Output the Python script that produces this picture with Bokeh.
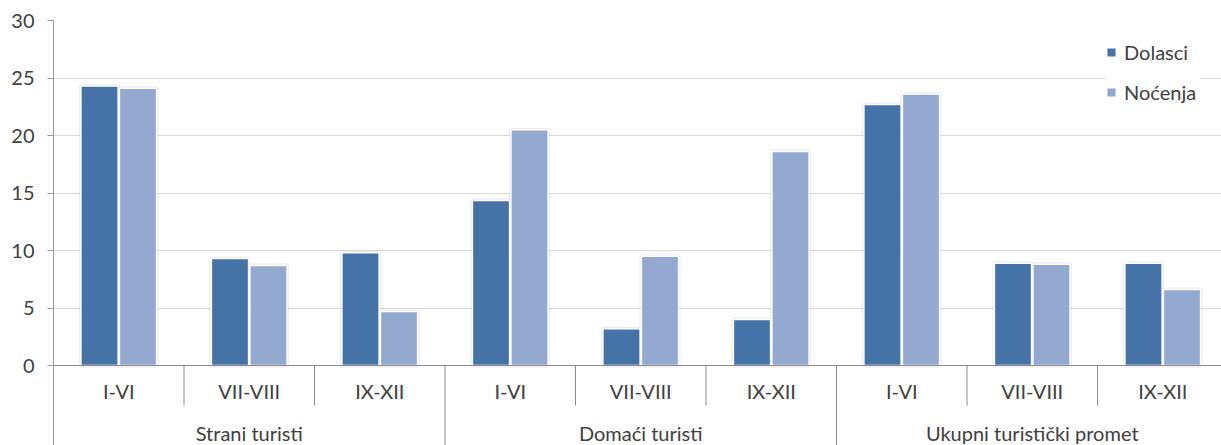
import numpy as np
from bokeh.plotting import figure
from bokeh.models import Range1d, FixedTicker, Span, ColumnDataSource, Legend, LegendItem
from bokeh.core.properties import value
from bokeh.transform import dodge
from bokeh.embed import file_html
from bokeh.resources import INLINE

# ---- data ----
groups = ["Strani turisti", "Domaći turisti", "Ukupni turistički promet"]
periods = ["I-VI", "VII-VIII", "IX-XII"]
dolasci = [24.3, 9.3, 9.8, 14.35, 3.2, 4.0, 22.7, 8.9, 8.9]
nocenja = [24.1, 8.7, 4.7, 20.5, 9.5, 18.6, 23.6, 8.8, 6.6]
series_names = ["Dolasci", "Noćenja"]
y_ticks = [0, 5, 10, 15, 20, 25, 30]

# ---- styling ----
C_DOL = "#4572A7"
C_NOC = "#94A9D0"
TXT = "#404040"
FONT = "Lato"
FS = "20px"

PX_PER_UNIT = 11.5
CAT_PX = 130.5
FIG_W, FIG_H = 1221, 445
BORDER_L, BORDER_T = 53, 20
frame_w = FIG_W - BORDER_L
frame_h = FIG_H - BORDER_T
y_top = 30
y_start = y_top - frame_h / PX_PER_UNIT
x_end = frame_w / CAT_PX

n = len(groups) * len(periods)
xc = np.arange(n) + 0.5
src = ColumnDataSource(dict(x=xc, dolasci=dolasci, nocenja=nocenja))

p = figure(width=FIG_W, height=FIG_H, output_backend="svg", toolbar_location=None,
           x_range=Range1d(0, x_end), y_range=Range1d(y_start, y_top),
           x_axis_location=None, min_border_left=BORDER_L, min_border_right=0,
           min_border_top=BORDER_T, min_border_bottom=0)
p.outline_line_color = None
p.xgrid.visible = False
p.ygrid.ticker = FixedTicker(ticks=y_ticks)
p.ygrid.grid_line_color = "#D9D9D9"
p.ygrid.grid_line_width = 1

ax = p.yaxis[0]
ax.ticker = FixedTicker(ticks=y_ticks)
ax.axis_line_color = "#9A9A9A"
ax.major_tick_line_color = "#9A9A9A"
ax.major_tick_out = 6
ax.major_tick_in = 0
ax.minor_tick_out = 0
ax.minor_tick_in = 0
ax.major_label_standoff = 13
ax.major_label_text_font = FONT
ax.major_label_text_font_size = FS
ax.major_label_text_color = TXT

W = 0.285
OFF = 0.1475

# faint shadow halo
for col, off in (("dolasci", -OFF), ("nocenja", OFF)):
    p.vbar(x=dodge("x", off), top=col, bottom=0, width=W, source=src,
           fill_color=None, line_color="#000000", line_alpha=0.07, line_width=4)

r_dol = p.vbar(x=dodge("x", -OFF), top="dolasci", bottom=0, width=W, source=src,
               fill_color=C_DOL, line_color="white", line_width=1.5)
r_noc = p.vbar(x=dodge("x", OFF), top="nocenja", bottom=0, width=W, source=src,
               fill_color=C_NOC, line_color="white", line_width=1.5)

# zero axis line
p.add_layout(Span(location=0, dimension="width", line_color="#8C8C8C", line_width=1))

# category separators
sep_x = list(range(1, n))
sep_y1 = [(-3.48 if i % len(periods) else y_start) for i in sep_x]
p.segment(x0=sep_x, y0=[0] * len(sep_x), x1=sep_x, y1=sep_y1,
          line_color="#8C8C8C", line_width=1)

# period labels
p.text(x=xc, y=[-2.22] * n, text=periods * len(groups),
       text_align="center", text_baseline="alphabetic",
       text_font=value(FONT), text_font_size=FS, text_color=TXT)

# group labels
gx = [i * len(periods) + len(periods) / 2 for i in range(len(groups))]
p.text(x=gx, y=[-5.91] * len(groups), text=groups,
       text_align="center", text_baseline="alphabetic",
       text_font=value(FONT), text_font_size=FS, text_color=TXT)

legend = Legend(items=[LegendItem(label=series_names[0], renderers=[r_dol]),
                       LegendItem(label=series_names[1], renderers=[r_noc])],
                location="top_right", margin=20, padding=11, spacing=16,
                glyph_width=12, glyph_height=12, label_standoff=7,
                label_height=20, label_width=77,
                label_text_font=FONT, label_text_font_size=FS,
                label_text_color=TXT, border_line_color=None,
                background_fill_color="white", background_fill_alpha=1.0)
p.add_layout(legend)

open("out.html", "w").write(file_html(p, INLINE))
